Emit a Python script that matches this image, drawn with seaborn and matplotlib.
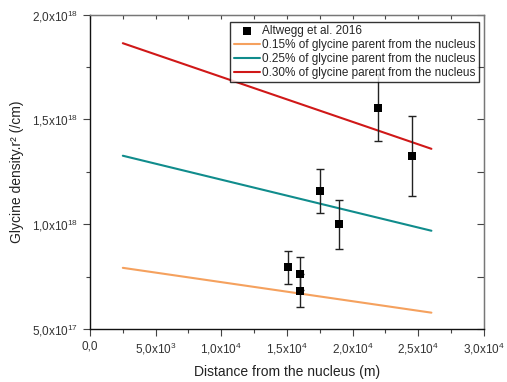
import matplotlib
matplotlib.use("Agg")
import matplotlib.pyplot as plt
import seaborn as sns
import pandas as pd
import numpy as np
from matplotlib.ticker import FixedLocator, MultipleLocator

# ---- data ----
obs_x = [1.51e4, 1.60e4, 1.60e4, 1.75e4, 1.90e4, 2.19e4, 2.45e4]
obs_y = [0.794e18, 0.764e18, 0.683e18, 1.16e18, 1.0e18, 1.555e18, 1.327e18]
obs_err = [0.078e18, 0.078e18, 0.078e18, 0.105e18, 0.117e18, 0.16e18, 0.19e18]

model_x = [2.5e3, 2.6e4]
model_015 = [0.792e18, 0.578e18]
model_025 = [1.327e18, 0.969e18]
model_030 = [1.864e18, 1.36e18]

labels = ["0.15% of glycine parent from the nucleus",
          "0.25% of glycine parent from the nucleus",
          "0.30% of glycine parent from the nucleus"]
obs_label = "Altwegg et al. 2016"

x_ticks = [0, 5e3, 1e4, 1.5e4, 2e4, 2.5e4, 3e4]
x_ticklabels = ["0,0", r"5,0x10$^{3}$", r"1,0x10$^{4}$", r"1,5x10$^{4}$",
                r"2,0x10$^{4}$", r"2,5x10$^{4}$", r"3,0x10$^{4}$"]
y_ticks = [5e17, 1e18, 1.5e18, 2e18]
y_ticklabels = [r"5,0x10$^{17}$", r"1,0x10$^{18}$", r"1,5x10$^{18}$", r"2,0x10$^{18}$"]

colors = ["#F5A15E", "#108C8C", "#D01818"]

sns.set_style("white")
plt.rcParams["font.family"] = ["Liberation Sans", "DejaVu Sans"]
plt.rcParams["mathtext.fontset"] = "custom"
plt.rcParams["mathtext.rm"] = "Liberation Sans"

fig = plt.figure(figsize=(5.07, 3.82), dpi=100)
ax = fig.add_axes([0.1775, 0.1387, 0.777, 0.8228])

df_obs = pd.DataFrame({"x": obs_x, "y": obs_y, "err": obs_err})
rows = []
for lab, vals in zip(labels, [model_015, model_025, model_030]):
    for xv, yv in zip(model_x, vals):
        rows.append({"x": xv, "y": yv, "model": lab})
df_mod = pd.DataFrame(rows)

ax.errorbar(df_obs["x"], df_obs["y"], yerr=df_obs["err"], fmt="none",
            ecolor="#222222", elinewidth=1.0, capsize=3, capthick=1.0, zorder=3)
sns.scatterplot(data=df_obs, x="x", y="y", marker="s", color="black", s=36,
                edgecolor="black", linewidth=0, ax=ax, label=obs_label, zorder=4)
sns.lineplot(data=df_mod, x="x", y="y", hue="model", hue_order=labels,
             palette=colors, linewidth=1.5, ax=ax, zorder=2)

ax.set_xlim(0, 3e4)
ax.set_ylim(5e17, 2e18)
ax.xaxis.set_major_locator(FixedLocator(x_ticks))
ax.set_xticklabels(x_ticklabels, fontsize=8.5, color="#333333")
ax.xaxis.set_minor_locator(MultipleLocator(2.5e3))
ax.yaxis.set_major_locator(FixedLocator(y_ticks))
ax.set_yticklabels(y_ticklabels, fontsize=8.5, color="#333333")
ax.yaxis.set_minor_locator(MultipleLocator(2.5e17))

ax.tick_params(axis="both", which="both", direction="out", bottom=True, left=True,
               top=False, right=False, color="#444444")
ax.tick_params(which="major", length=5, width=0.8)
ax.tick_params(which="minor", length=3, width=0.8)

# mirrored inward ticks on top/right
axt = ax.secondary_xaxis("top")
axt.xaxis.set_major_locator(MultipleLocator(2.5e3))
axt.tick_params(direction="in", length=3, labeltop=False, color="#444444")
axt.set_xticklabels([])
axr = ax.secondary_yaxis("right")
axr.yaxis.set_major_locator(MultipleLocator(2.5e17))
axr.tick_params(direction="in", length=5, labelright=False, color="#444444")
axr.set_yticklabels([])
for s in axt.spines.values():
    s.set_color("#777777")
for s in axr.spines.values():
    s.set_color("#777777")

for side in ["left", "bottom"]:
    ax.spines[side].set_color("#111111")
    ax.spines[side].set_linewidth(1.0)
for side in ["top", "right"]:
    ax.spines[side].set_color("#777777")
    ax.spines[side].set_linewidth(1.0)

ax.set_xlabel("Distance from the nucleus (m)", fontsize=10, color="#222222", labelpad=6)
ax.set_ylabel("Glycine density.r² (/cm)", fontsize=10, color="#222222", labelpad=6)

handles, labs = ax.get_legend_handles_labels()
leg = ax.legend(handles, labs, loc="upper right", bbox_to_anchor=(0.993, 0.985),
                fontsize=8.5, frameon=True, fancybox=False, handlelength=2.2,
                handletextpad=0.15, borderpad=0.3, labelspacing=0.15,
                borderaxespad=0.2, markerscale=0.9)
leg.get_frame().set_edgecolor("black")
leg.get_frame().set_linewidth(1.0)

fig.savefig("out.png", dpi=100)
